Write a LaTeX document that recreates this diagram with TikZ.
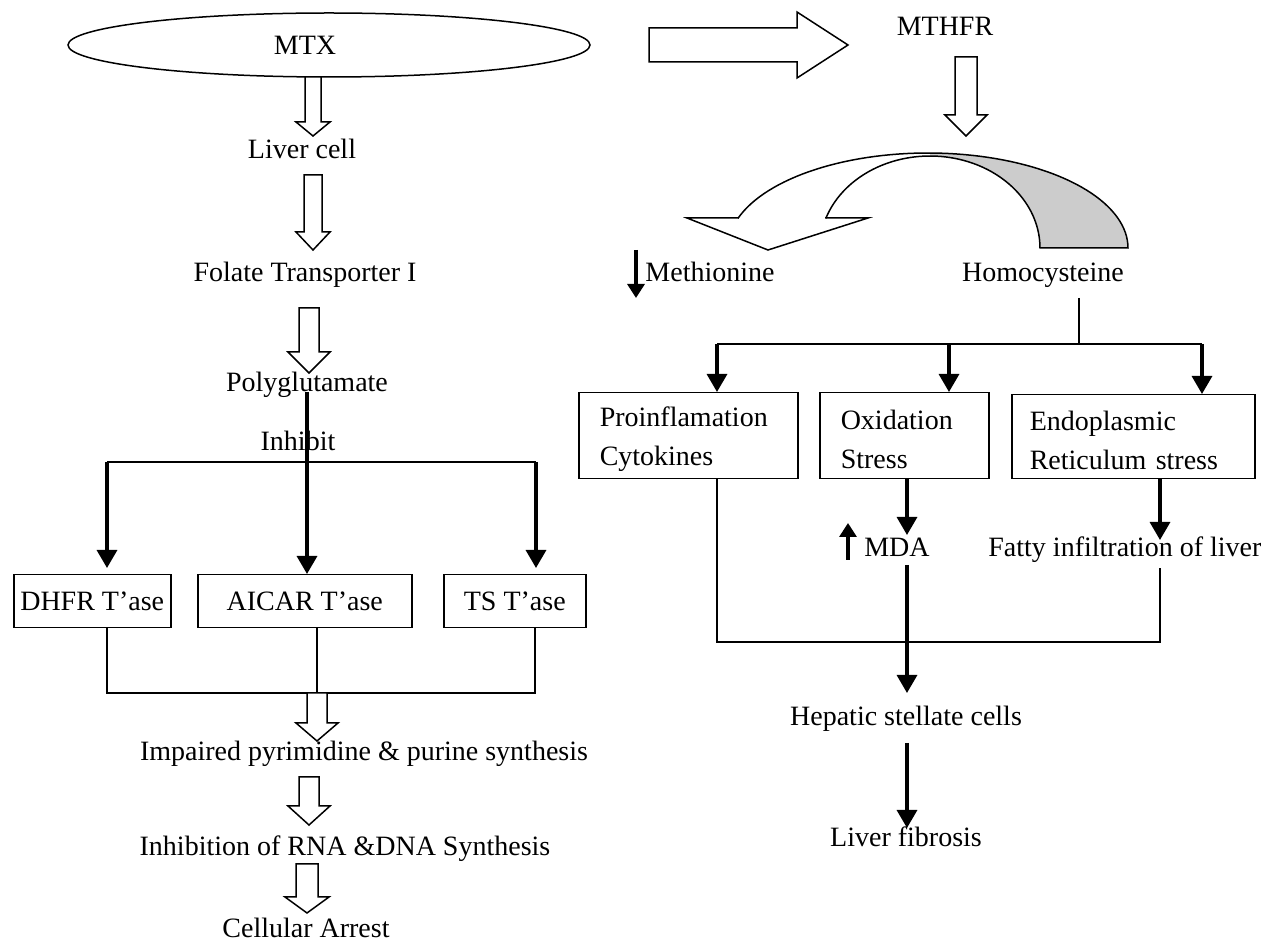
\documentclass[tikz,border=0pt]{standalone}
\usepackage{fontspec}
\setmainfont{Liberation Serif}
\usetikzlibrary{arrows.meta,shapes.geometric}
\newcommand{\blockdown}[6]{\draw[blockarrow] ({#1-#5},#2) -- ({#1-#5},#3) -- ({#1-#6},#3) -- (#1,#4) -- ({#1+#6},#3) -- ({#1+#5},#3) -- ({#1+#5},#2) -- cycle;}
\newcommand{\curvedpath}{(738.2,218) -- (687,218) -- (768,250) -- (868,218) -- (825,218) -- plot[domain=199.03:360,samples=70] ({930+110*cos(\x)},{248+92*sin(\x)}) -- (1128,248) -- plot[domain=360:198.4,samples=70] ({928+200*cos(\x)},{248+95*sin(\x)}) -- cycle}
\newcommand{\topstrut}{\rule{0pt}{13.5pt}}
\begin{document}
\begin{tikzpicture}[x=0.5pt,y=-0.5pt,
  every node/.style={font=\fontsize{14pt}{19.5pt}\selectfont, inner sep=0pt},
  lbl/.style={anchor=base},
  thinline/.style={line width=0.75pt},
  thk/.style={line width=1.6pt, -{Triangle[width=10pt,length=9pt]}},
  thksmall/.style={line width=1.6pt, -{Triangle[width=8.5pt,length=7pt]}},
  blockarrow/.style={draw, line width=0.75pt, fill=white, line join=miter},
  lbox/.style={draw, line width=0.75pt, anchor=north west, align=center},
  rbox/.style={draw, line width=0.75pt, anchor=north west, align=left}]
\useasboundingbox (0,0) rectangle (1266,946);
\fill[white] (0,0) rectangle (1266,946);

% ---------- left column ----------
\node[draw, ellipse, line width=0.75pt, minimum width=261pt, minimum height=32pt] (mtx) at (329,45) {MTX\hspace*{24pt}};
\node[lbl] (liver) at (302,159) {Liver cell};
\node[lbl] (folate) at (305,282) {Folate Transporter I};
\node[lbl] (poly) at (307,392) {Polyglutamate};
\node[lbl] (inhibit) at (298,451) {Inhibit};
\node[lbox, minimum width=78.5pt, minimum height=26.5pt] (dhfr) at (13,574) {DHFR T’ase};
\node[lbox, minimum width=107pt, minimum height=26.5pt] (aicar) at (197,574) {AICAR T’ase};
\node[lbox, minimum width=71pt, minimum height=26.5pt] (ts) at (443,574) {TS T’ase};
\node[lbl] (impaired) at (364,761) {Impaired pyrimidine \& purine synthesis};
\node[lbl] (rnadna) at (345,856) {Inhibition of RNA \&DNA Synthesis};
\node[lbl] (arrest) at (306,938) {Cellular Arrest};

\blockdown{313}{77}{122}{136}{8}{17}
\blockdown{313}{175}{232}{250}{9}{17}
\blockdown{309}{308}{352}{373}{10}{21}

\draw[thk] (poly.base) -- (poly.base |- aicar.north);
\coordinate (bl) at (107,462);
\coordinate (br) at (536,462);
\draw[thinline] (bl) -- (br);
\draw[thk, shorten >=3pt] (bl) -- (bl |- dhfr.north);
\draw[thk, shorten >=3pt] (br) -- (br |- ts.north);

\coordinate (cl) at (107,693);
\coordinate (cm) at (317,693);
\coordinate (cr) at (535,693);
\draw[thinline] (cl |- dhfr.south) -- (cl) -- (cr) -- (cr |- ts.south);
\draw[thinline] (cm |- aicar.south) -- (cm);

\blockdown{317}{693}{723}{741}{10}{21}
\blockdown{309}{777}{806}{825}{10}{21}
\blockdown{307}{864}{897}{913}{11}{22}

% ---------- right column ----------
\draw[blockarrow] (649,28) -- (797,28) -- (797,12) -- (848,45) -- (797,78) -- (797,62) -- (649,62) -- cycle;
\node[lbl] (mthfr) at (945,36) {MTHFR};
\blockdown{966}{57}{115}{136}{11}{21}

\begin{scope}
  \clip (930,100) rectangle (1200,260);
  \fill[black!20] \curvedpath;
\end{scope}
\draw[thinline, line join=miter] \curvedpath;

\node[lbl] (methionine) at (710,282) {Methionine};
\node[lbl] (homo) at (1043,282) {Homocysteine};
\coordinate (metA) at (636,250);
\coordinate (metB) at (636,298);
\draw[thksmall] (metA) -- (metB);

\node[rbox, minimum width=109.5pt, minimum height=43pt, text width=88.5pt, inner xsep=10.5pt] (proinf) at (578,392) {\topstrut Proinflamation\\Cytokines};
\node[rbox, minimum width=84.5pt, minimum height=43pt, text width=63.5pt, inner xsep=10.5pt] (oxid) at (819,392) {\topstrut Oxidation\\Stress};
\node[rbox, minimum width=121.5pt, minimum height=42pt, text width=103.5pt, inner xsep=9pt] (er) at (1011,394) {\topstrut Endoplasmic\\Reticulum stress};

\coordinate (ht) at (1079,298);
\coordinate (hb) at (1079,344);
\draw[thinline] (ht) -- (hb);
\coordinate (rbL) at (717,344);
\coordinate (rbM) at (949,344);
\coordinate (rbR) at (1202,344);
\draw[thinline] (rbL) -- (rbR);
\draw[thk] (rbL) -- (rbL |- proinf.north);
\draw[thk] (rbM) -- (rbM |- oxid.north);
\draw[thk] (rbR) -- (rbR |- er.north);

\node[lbl] (mda) at (897,557) {MDA};
\begin{scope}
  \clip (980,520) rectangle (1260,580);
  \node[lbl, anchor=base west] (fatty) at (988,557) {Fatty infiltration of liver};
\end{scope}
\coordinate (mdaA) at (848,560);
\coordinate (mdaB) at (848,523);
\draw[thksmall] (mdaA) -- (mdaB);

\coordinate (ox) at (907,535);
\draw[thk] (ox |- oxid.south) -- (ox);
\coordinate (erT) at (1160,540);
\draw[thk] (erT |- er.south) -- (erT);

\coordinate (fL) at (717,642);
\coordinate (fR) at (1160,642);
\coordinate (fR2) at (1160,568);
\draw[thinline] (fL |- proinf.south) -- (fL) -- (fR) -- (fR2);

\node[lbl] (hepatic) at (906,726) {Hepatic stellate cells};
\node[lbl] (fibrosis) at (906,847) {Liver fibrosis};
\coordinate (hsA) at (907,565);
\coordinate (hsB) at (907,693);
\draw[thk] (hsA) -- (hsB);
\coordinate (lfA) at (907,743);
\coordinate (lfB) at (907,828);
\draw[thk] (lfA) -- (lfB);
\end{tikzpicture}
\end{document}
